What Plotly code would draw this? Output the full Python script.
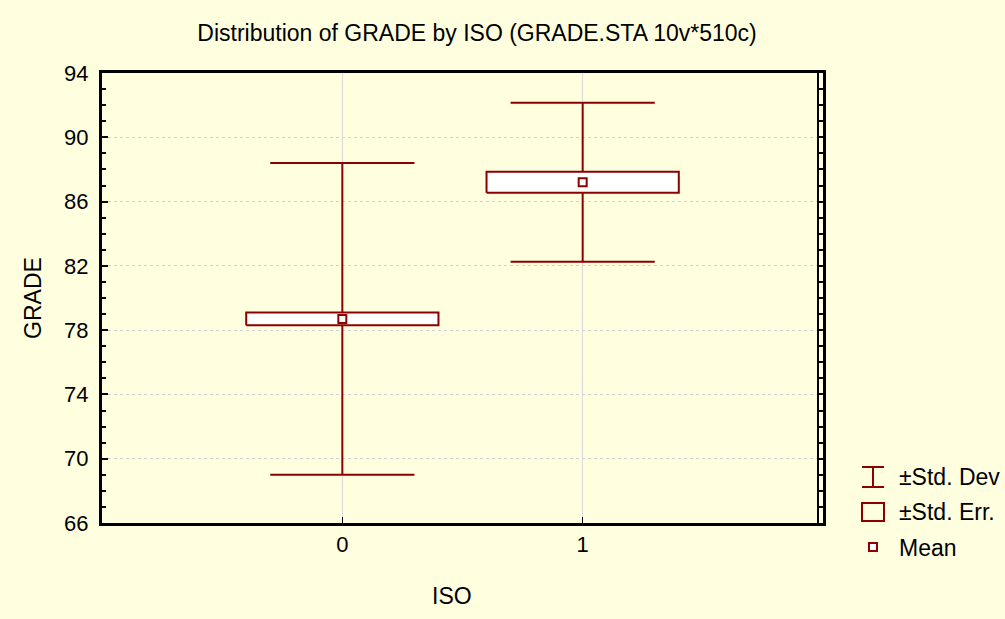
import plotly.graph_objects as go

# Summary statistics of GRADE for each ISO group
iso = [0, 1]
grade_mean = [78.7, 87.2]
grade_sd = [9.7, 4.95]
grade_se = [0.4, 0.65]

legend_labels = ["±Std. Dev", "±Std. Err.", "Mean"]

DARK_RED = "#8b0000"
BG = "#ffffe0"
FONT = "Liberation Sans, Arial, sans-serif"

W, H = 1005, 619
L, R, T, B = 102, 823, 73, 523  # plot area in pixels

CAP = 0.3   # half width of whisker caps (x units)
BOX = 0.4   # half width of std. error box (x units)

fig = go.Figure()

# Whiskers: mean ± std. dev with caps
for x, m, s in zip(iso, grade_mean, grade_sd):
    lo, hi = m - s, m + s
    fig.add_trace(go.Scatter(
        x=[x - CAP, x + CAP, None, x, x, None, x - CAP, x + CAP],
        y=[hi, hi, None, hi, lo, None, lo, lo],
        mode="lines", line=dict(color=DARK_RED, width=2),
        hoverinfo="skip", showlegend=False))

# Boxes: mean ± std. error
for x, m, e in zip(iso, grade_mean, grade_se):
    lo, hi = m - e, m + e
    fig.add_trace(go.Scatter(
        x=[x - BOX, x + BOX, x + BOX, x - BOX, x - BOX],
        y=[lo, lo, hi, hi, lo],
        mode="lines", fill="toself", fillcolor="white",
        line=dict(color=DARK_RED, width=2),
        hoverinfo="skip", showlegend=False))

# Means
fig.add_trace(go.Scatter(
    x=iso, y=grade_mean, mode="markers",
    marker=dict(symbol="square", size=8, color="white",
                line=dict(color=DARK_RED, width=2)),
    showlegend=False))


def px_x(p):
    return (p - L) / (R - L)


def px_y(p):
    return (B - p) / (B - T)


shapes = []
# Legend: I-beam glyph
for x0, y0, x1, y1 in [(862, 467, 884, 467), (862, 487, 884, 487), (873, 467, 873, 487)]:
    shapes.append(dict(type="line", xref="paper", yref="paper",
                       x0=px_x(x0), y0=px_y(y0), x1=px_x(x1), y1=px_y(y1),
                       line=dict(color=DARK_RED, width=2)))
# Legend: box glyph
shapes.append(dict(type="rect", xref="paper", yref="paper",
                   x0=px_x(862), y0=px_y(503), x1=px_x(884), y1=px_y(521),
                   line=dict(color=DARK_RED, width=2), fillcolor="rgba(0,0,0,0)"))
# Legend: mean glyph
shapes.append(dict(type="rect", xref="paper", yref="paper",
                   x0=px_x(869), y0=px_y(543), x1=px_x(877), y1=px_y(551),
                   line=dict(color=DARK_RED, width=2), fillcolor="white"))
# Inner line of the doubled right frame
shapes.append(dict(type="line", xref="paper", yref="paper",
                   x0=px_x(818), y0=0, x1=px_x(818), y1=1,
                   line=dict(color="black", width=2)))

annotations = []
for label, yp in zip(legend_labels, [477, 512, 548]):
    annotations.append(dict(text=label, xref="paper", yref="paper",
                            x=px_x(897), y=px_y(yp), xanchor="left", yanchor="middle",
                            showarrow=False, font=dict(family=FONT, size=23, color="black")))
# X axis title
annotations.append(dict(text="ISO", xref="paper", yref="paper",
                        x=px_x(452), y=px_y(596), xanchor="center", yanchor="middle",
                        showarrow=False, font=dict(family=FONT, size=23, color="black")))

fig.update_layout(
    width=W, height=H,
    margin=dict(l=L, r=W - R, t=T, b=H - B),
    paper_bgcolor=BG, plot_bgcolor=BG,
    font=dict(family=FONT, color="black"),
    title=dict(text="Distribution of GRADE by ISO (GRADE.STA 10v*510c)",
               x=477 / W, xanchor="center", y=1 - 33 / H, yanchor="middle",
               font=dict(family=FONT, size=23)),
    shapes=shapes, annotations=annotations,
    showlegend=False,
)

fig.update_xaxes(
    range=[-1, 2], tickvals=iso, ticktext=[str(v) for v in iso],
    tickfont=dict(size=22), ticks="inside", ticklen=6, tickcolor="black",
    showgrid=True, gridcolor="#d9d9d9", gridwidth=1,
    showline=True, linecolor="black", linewidth=3, mirror=True,
    zeroline=False,
)

fig.update_yaxes(
    range=[66, 94], tickvals=list(range(66, 95, 4)),
    tickfont=dict(size=22), ticks="inside", ticklen=6, tickcolor="black", tickwidth=2,
    ticklabelstandoff=6,
    minor=dict(dtick=1, ticks="inside", ticklen=4, tickcolor="black", showgrid=False),
    showgrid=True, gridcolor="#d0d0d0", gridwidth=1, griddash="dot",
    showline=True, linecolor="black", linewidth=3, mirror="allticks",
    zeroline=False,
    title=dict(text="GRADE", font=dict(size=23), standoff=17),
)

fig.write_html("out.html")
